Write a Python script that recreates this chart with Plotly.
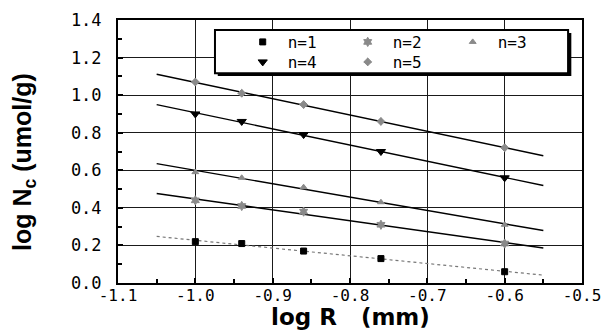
import numpy as np
import plotly.graph_objects as go

log_r = [-1.0, -0.94, -0.86, -0.76, -0.6]
n1 = [0.22, 0.21, 0.17, 0.13, 0.06]
n2 = [0.44, 0.41, 0.38, 0.31, 0.21]
n3 = [0.59, 0.56, 0.51, 0.43, 0.31]
n4 = [0.90, 0.86, 0.79, 0.70, 0.56]
n5 = [1.07, 1.01, 0.95, 0.86, 0.72]
series_names = ["n=1", "n=2", "n=3", "n=4", "n=5"]
fit_range = [-1.05, -0.55]
x_ticks = [-1.1, -1.0, -0.9, -0.8, -0.7, -0.6, -0.5]
x_ticktext = ["-1.1", "-1.0", "-0.9", "-0.8", "-0.7", "-0.6", "-0.5"]
y_ticks = [0.0, 0.2, 0.4, 0.6, 0.8, 1.0, 1.2, 1.4]
y_ticktext = ["0.0", "0.2", "0.4", "0.6", "0.8", "1.0", "1.2", "1.4"]

series = [n1, n2, n3, n4, n5]
symbols = ["square", "hexagram", "triangle-up", "triangle-down", "diamond-cross"]
colors = ["black", "#8a8a8a", "#8a8a8a", "black", "#8a8a8a"]
sizes = [6, 7, 6, 8, 6]
legend_ids = ["legend", "legend", "legend", "legend2", "legend2"]
line_styles = [dict(color="#777777", width=1.2, dash="dot"),
               dict(color="black", width=1.4),
               dict(color="black", width=1.4),
               dict(color="black", width=1.4),
               dict(color="black", width=1.4)]

fig = go.Figure()
xf = np.array(fit_range)
for ys, st in zip(series, line_styles):
    k, b = np.polyfit(log_r, ys, 1)
    fig.add_trace(go.Scatter(x=xf, y=k * xf + b, mode="lines", line=st,
                             showlegend=False, hoverinfo="skip"))
for name, ys, sym, col, sz, lg in zip(series_names, series, symbols, colors, sizes, legend_ids):
    fig.add_trace(go.Scatter(x=log_r, y=ys, mode="markers", name=name, legend=lg,
                             marker=dict(symbol=sym, color=col, size=sz,
                                         line=dict(color=col, width=1))))

ax_common = dict(showline=True, linecolor="black", linewidth=2, mirror=True,
                 showgrid=True, gridcolor="#1a1a1a", gridwidth=1,
                 ticks="inside", ticklen=5, tickcolor="black", tickwidth=1.5,
                 zeroline=False, tickmode="array", automargin=False)

fig.update_xaxes(range=[-1.1, -0.5], tickvals=x_ticks, ticktext=x_ticktext,
                 ticklabelstandoff=-3,
                 tickfont=dict(family="DejaVu Sans Mono", size=16, color="black"),
                 minor=dict(tickmode="linear", tick0=-1.1, dtick=0.05, ticks="inside",
                            ticklen=4, tickcolor="black", showgrid=False),
                 **ax_common)
fig.update_yaxes(range=[0, 1.4], tickvals=y_ticks, ticktext=y_ticktext,
                 ticklabelstandoff=11,
                 tickfont=dict(family="DejaVu Sans Mono", size=17, color="black"),
                 minor=dict(tickmode="linear", tick0=0, dtick=0.1, ticks="inside",
                            ticklen=4, tickcolor="black", showgrid=False),
                 **ax_common)

fig.add_annotation(text="<b>log N<sub>c</sub> (umol/g)</b>", textangle=-90,
                   xref="paper", yref="paper", x=(24 - 118) / 464, y=(283 - 162) / 263,
                   xanchor="center", yanchor="middle", showarrow=False,
                   font=dict(family="Liberation Sans", size=25, color="black"))
fig.add_annotation(text="<b>log R\u00a0\u00a0\u00a0(mm)</b>",
                   xref="paper", yref="paper", x=0.5, y=(283 - 317) / 263,
                   xanchor="center", yanchor="middle", showarrow=False,
                   font=dict(family="DejaVu Sans", size=23, color="black"))

# legend box with shadow
fig.add_shape(type="rect", xref="paper", yref="paper",
              x0=0.215, x1=0.977, y0=0.787, y1=0.951,
              fillcolor="black", line=dict(width=0), layer="above")
fig.add_shape(type="rect", xref="paper", yref="paper",
              x0=0.209, x1=0.970, y0=0.798, y1=0.962,
              fillcolor="white", line=dict(color="black", width=2), layer="above")

leg_font = dict(family="DejaVu Sans Mono", size=16, color="black")
leg_common = dict(orientation="h", xanchor="left", yanchor="middle",
                  entrywidth=50, entrywidthmode="pixels", itemwidth=40,
                  bgcolor="rgba(0,0,0,0)", borderwidth=0, font=leg_font)
fig.update_layout(
    width=609, height=332,
    margin=dict(l=118, r=27, t=20, b=49),
    plot_bgcolor="white", paper_bgcolor="white",
    showlegend=True,
    legend=dict(x=0.258, y=(283 - 42) / 263, **leg_common),
    legend2=dict(x=0.258, y=(283 - 62) / 263, **leg_common),
)
fig.write_html("out.html")
